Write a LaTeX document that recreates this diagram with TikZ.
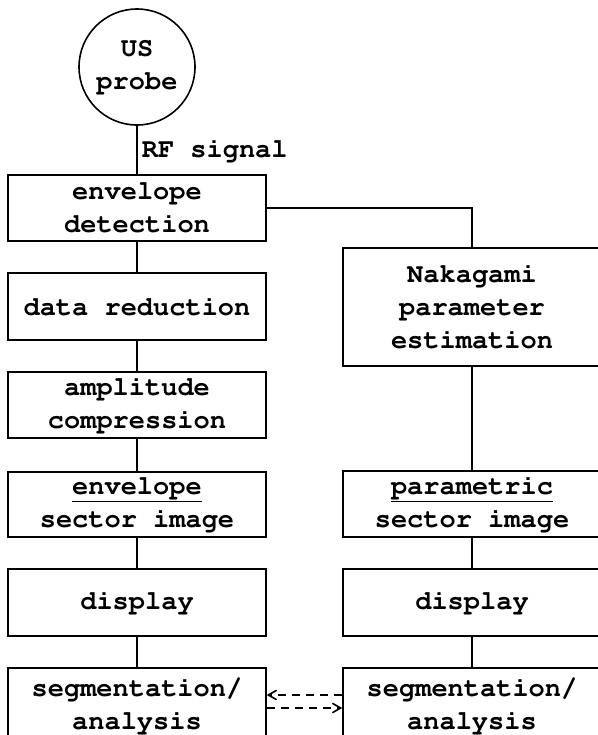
\documentclass[tikz,border=0pt]{standalone}
\usepackage[T1]{fontenc}
\usepackage{courier}
\usetikzlibrary{arrows}
\tikzset{blk/.style = {draw, rectangle, minimum width = 129pt, minimum height = 33pt, inner sep = 0, align = center, font = \ttfamily\bfseries\fontsize{13.5}{16.5}\selectfont}}
\tikzset{lbl/.style = {inner sep = 2pt, font = \ttfamily\bfseries\fontsize{13.5}{16.5}\selectfont}}

\begin{document}
\begin{tikzpicture}[x = 0.5pt, y = -0.5pt, line width = 0.8pt]
    \useasboundingbox (0, 0) rectangle (598, 735);
    % left column
    \node [blk, circle, minimum size = 58pt] (probe) at (137, 67) {US\\probe};
    \node [blk] (det) at (137, 208) {envelope\\detection};
    \node [blk, minimum height = 33.5pt] (red) at (137, 306.5) {data reduction};
    \node [blk] (amp) at (137, 405) {amplitude\\compression};
    \node [blk, minimum height = 32.5pt] (env) at (137, 504.5) {\underline{envelope}\\sector image};
    \node [blk, minimum height = 33.5pt] (ldisp) at (137, 602.5) {display};
    \node [blk, minimum height = 38pt] (lseg) at (137, 706) {segmentation/\\analysis};
    % right column
    \node [blk, minimum height = 59pt] (nak) at (472, 307) {Nakagami\\parameter\\estimation};
    \node [blk] (par) at (472, 504) {\underline{parametric}\\sector image};
    \node [blk, minimum height = 33.5pt] (rdisp) at (472, 602.5) {display};
    \node [blk, minimum height = 38pt] (rseg) at (472, 706) {segmentation/\\analysis};
    \draw (probe) -- node [lbl, right] {RF signal} (det);
    \draw (det) -- (red);
    \draw (red) -- (amp);
    \draw (amp) -- (env);
    \draw (env) -- (ldisp);
    \draw (ldisp) -- (lseg);
    \draw (det.east) -| (nak.north);
    \draw (nak) -- (par);
    \draw (par) -- (rdisp);
    \draw (rdisp) -- (rseg);
    \draw [dash pattern = on 4pt off 3pt, >=angle 60, ->] ([yshift = 5.5pt]rseg.west) -- ([yshift = 5.5pt]lseg.east);
    \draw [dash pattern = on 4pt off 3pt, >=angle 60, ->] ([yshift = -1pt]lseg.east) -- ([yshift = -1pt]rseg.west);
  \end{tikzpicture}
\end{document}
